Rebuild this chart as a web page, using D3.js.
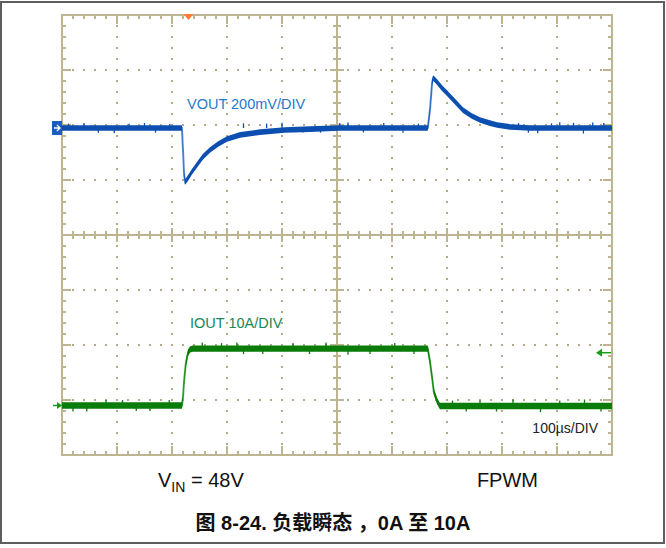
<!DOCTYPE html>
<html>
<head>
<meta charset="utf-8">
<script src="https://cdn.jsdelivr.net/npm/d3@7"></script>
<style>
  body { margin: 0; background: #fff; }
  text { font-family: "Liberation Sans", Arial, sans-serif; }
</style>
</head>
<body>
<script>
const w = 666, h = 548;

// time in µs, VOUT deviation in mV (200mV/DIV)
const voutT = [0, 218, 220, 222, 224, 229, 236, 245, 256, 269, 284, 300, 324, 360, 405, 451, 505, 665, 669, 673, 675, 682, 691, 700, 715, 729, 745, 760, 778, 791, 815, 851, 1000];
const voutV = [0, 0, -80, -170, -196, -182, -160, -135, -105, -80, -58, -40, -25, -15, -7, -4, 0, 0, 65, 167, 182, 167, 145, 127, 95, 65, 44, 29, 18, 11, 4, 0, 0];
// visible noise spikes on VOUT (time, mV from baseline)
const voutSpikes = [[12, 16], [40, 18], [66, -17], [95, -19], [122, 16], [150, 18], [170, -17], [196, 15],
  [330, 17], [372, 16], [400, 19], [438, -16], [470, -17], [505, 18], [520, 20], [548, -16], [585, 18], [620, -17], [648, 16],
  [830, 18], [848, -17], [865, -19], [890, 17], [905, 21], [930, 19], [948, -20], [965, 20], [985, 18]];

// IOUT in A (10A/DIV)
const ioutT = [0, 218, 220, 222, 225, 229, 233, 238, 665, 669, 673, 676, 682, 687, 1000];
const ioutA = [0, 0, 1.5, 4.5, 7.5, 9.6, 10.2, 10.35, 10.35, 8, 5, 2.5, 0.8, -0.1, -0.1];
const ioutSpikes = [[20, -1.1], [45, -1.1], [80, 1.0], [110, 1.0], [135, -1.0], [160, -1.0], [195, 1.0],
  [255, 1.1], [290, 1.0], [318, 1.1], [330, -1.0], [365, -1.0], [420, 1.0], [450, -1.0], [480, 1.1], [520, -1.1], [560, -1.0], [605, 1.0], [640, -1.0],
  [710, 1.0], [735, -1.0], [760, 1.0], [790, -1.0], [820, 1.2], [870, -1.1], [905, 1.0], [950, 1.2], [980, -1.0]];

const xDivs = 10, yDivs = 8;
const ch1Offset = 1.945;   // divisions above centre
const ch2Offset = -3.1;

const svg = d3.select("body").append("svg")
  .attr("width", w).attr("height", h);

svg.append("rect")
  .attr("x", 1).attr("y", 2).attr("width", 663).attr("height", 541)
  .attr("fill", "#fff").attr("stroke", "#5e5e5e").attr("stroke-width", 2);

const x = d3.scaleLinear().domain([0, 1000]).range([62, 612]);
const yDiv = d3.scaleLinear().domain([-4, 4]).range([455, 15]);
const yV = d3.scaleLinear().domain([(-4 - ch1Offset) * 200, (4 - ch1Offset) * 200]).range([455, 15]);
const yI = d3.scaleLinear().domain([(-4 - ch2Offset) * 10, (4 - ch2Offset) * 10]).range([455, 15]);

const gridCol = "#bdb592";
const dotCol = "#b3ab88";
const grid = svg.append("g");

// dotted major grid lines
const minorT = d3.range(0, 1001, 20);
const minorY = d3.range(-4, 4.001, 0.2);
d3.range(1, xDivs).filter(i => i !== 5).forEach(i => {
  const t = i * 100;
  grid.selectAll(null).data(minorY.slice(1, -1)).enter().append("rect")
    .attr("x", x(t) - 1).attr("y", d => yDiv(d) - 1)
    .attr("width", 2).attr("height", 2).attr("fill", dotCol);
});
d3.range(-3, 4).filter(j => j !== 0).forEach(j => {
  grid.selectAll(null).data(minorT.slice(1, -1)).enter().append("rect")
    .attr("x", d => x(d) - 1).attr("y", yDiv(j) - 1)
    .attr("width", 2).attr("height", 2).attr("fill", dotCol);
});

// frame and centre cross
grid.append("rect")
  .attr("x", x(0)).attr("y", yDiv(4))
  .attr("width", x(1000) - x(0)).attr("height", yDiv(-4) - yDiv(4))
  .attr("fill", "none").attr("stroke", gridCol).attr("stroke-width", 2);
grid.append("line").attr("x1", x(500)).attr("x2", x(500)).attr("y1", yDiv(4)).attr("y2", yDiv(-4));
grid.append("line").attr("x1", x(0)).attr("x2", x(1000)).attr("y1", yDiv(0)).attr("y2", yDiv(0));

// tick marks
const isMajorT = t => t % 100 === 0;
const isMajorY = d => Math.abs(d - Math.round(d)) < 1e-6;
const tl = maj => maj ? 9 : 4;
minorT.slice(1, -1).forEach(t => {
  const L = tl(isMajorT(t));
  const ctr = isMajorT(t) ? 7 : 4;
  grid.append("line").attr("x1", x(t)).attr("x2", x(t)).attr("y1", yDiv(4)).attr("y2", yDiv(4) + L);
  grid.append("line").attr("x1", x(t)).attr("x2", x(t)).attr("y1", yDiv(-4)).attr("y2", yDiv(-4) - L);
  grid.append("line").attr("x1", x(t)).attr("x2", x(t)).attr("y1", yDiv(0) - ctr).attr("y2", yDiv(0) + ctr);
});
minorY.slice(1, -1).forEach(d => {
  const L = tl(isMajorY(d));
  const ctr = isMajorY(d) ? 7 : 4;
  grid.append("line").attr("x1", x(0)).attr("x2", x(0) + L).attr("y1", yDiv(d)).attr("y2", yDiv(d));
  grid.append("line").attr("x1", x(1000)).attr("x2", x(1000) - L).attr("y1", yDiv(d)).attr("y2", yDiv(d));
  grid.append("line").attr("x1", x(500) - ctr).attr("x2", x(500) + ctr).attr("y1", yDiv(d)).attr("y2", yDiv(d));
});
grid.selectAll("line").attr("stroke", gridCol).attr("stroke-width", 2);

// traces: noise band is vertical, so steep edges stay thin
const voutData = voutT.map((t, i) => [t, voutV[i]]);
const ioutData = ioutT.map((t, i) => [t, ioutA[i]]);
const lineV = d3.line().x(d => x(d[0])).y(d => yV(d[1]));
const lineI = d3.line().x(d => x(d[0])).y(d => yI(d[1]));
const bandV = d3.area().x(d => x(d[0])).y0(d => yV(d[1]) + 2.8).y1(d => yV(d[1]) - 2.8);
const bandI = d3.area().x(d => x(d[0])).y0(d => yI(d[1]) + 3.2).y1(d => yI(d[1]) - 3.2);

const blue = "#0c4fb0", blueLight = "#5a8fd6";
const green = "#0a7c0a", greenLight = "#4cb04c";

svg.append("path").datum(voutData).attr("d", lineV)
  .attr("fill", "none").attr("stroke", blueLight).attr("stroke-width", 2);
svg.append("path").datum(voutData).attr("d", bandV).attr("fill", blue);
svg.selectAll(null).data(voutSpikes).enter().append("line")
  .attr("x1", d => x(d[0])).attr("x2", d => x(d[0]))
  .attr("y1", yV(0)).attr("y2", d => yV(d[1]))
  .attr("stroke", blue).attr("stroke-width", 1.3);

const ioutLevel = t => (t > 238 && t < 665 ? 10.35 : (t > 665 ? -0.1 : 0));
svg.append("path").datum(ioutData).attr("d", lineI)
  .attr("fill", "none").attr("stroke", greenLight).attr("stroke-width", 2);
svg.append("path").datum(ioutData).attr("d", bandI).attr("fill", green);
svg.selectAll(null).data(ioutSpikes).enter().append("line")
  .attr("x1", d => x(d[0])).attr("x2", d => x(d[0]))
  .attr("y1", d => yI(ioutLevel(d[0]))).attr("y2", d => yI(ioutLevel(d[0]) + d[1]))
  .attr("stroke", green).attr("stroke-width", 1.3);

// channel markers
const m1 = yV(0);
svg.append("rect").attr("x", 52).attr("y", m1 - 7).attr("width", 10).attr("height", 14).attr("fill", "#1d5cba");
svg.append("path").attr("d", `M54,${m1} h6 M57,${m1 - 3} l3,3 l-3,3`)
  .attr("stroke", "#fff").attr("stroke-width", 1.3).attr("fill", "none");
const m2 = yI(0);
svg.append("path").attr("d", `M53,${m2} h8`).attr("stroke", "#1a9a1a").attr("stroke-width", 1.5);
svg.append("path").attr("d", `M62,${m2} l-5,-3.5 v7 z`).attr("fill", "#1a9a1a");
const trig = yI(9.6);
svg.append("path").attr("d", `M602,${trig} h9`).attr("stroke", "#1a9a1a").attr("stroke-width", 1.5);
svg.append("path").attr("d", `M596,${trig} l6,-4 v8 z`).attr("fill", "#1a9a1a");
// trigger position
svg.append("path").attr("d", `M${x(230) - 5},${yDiv(4) - 1} h10 l-5,6 z`).attr("fill", "#ff7a33");

// labels
svg.append("text").attr("x", 187).attr("y", 109).attr("font-size", 14.5)
  .attr("fill", "#1f7bcb").text("VOUT 200mV/DIV");
svg.append("text").attr("x", 190).attr("y", 328).attr("font-size", 14.5)
  .attr("fill", "#1a8659").text("IOUT 10A/DIV");
svg.append("text").attr("x", 598).attr("y", 433).attr("font-size", 14).attr("text-anchor", "end")
  .attr("fill", "#222").text("100µs/DIV");

const vin = svg.append("text").attr("x", 158).attr("y", 487).attr("font-size", 20).attr("fill", "#111");
vin.append("tspan").text("V");
vin.append("tspan").attr("font-size", 14).attr("dy", 5).text("IN");
vin.append("tspan").attr("dy", -5).text(" = 48V");
svg.append("text").attr("x", 538).attr("y", 487).attr("font-size", 20).attr("text-anchor", "end")
  .attr("fill", "#111").text("FPWM");

svg.append("text").attr("x", 333).attr("y", 530).attr("text-anchor", "middle")
  .attr("font-size", 20).attr("font-weight", "bold").attr("fill", "#111")
  .style("font-family", "'Liberation Sans', 'Noto Sans CJK SC', sans-serif")
  .text("图 8-24. 负载瞬态 ，0A 至 10A");
</script>
</body>
</html>
